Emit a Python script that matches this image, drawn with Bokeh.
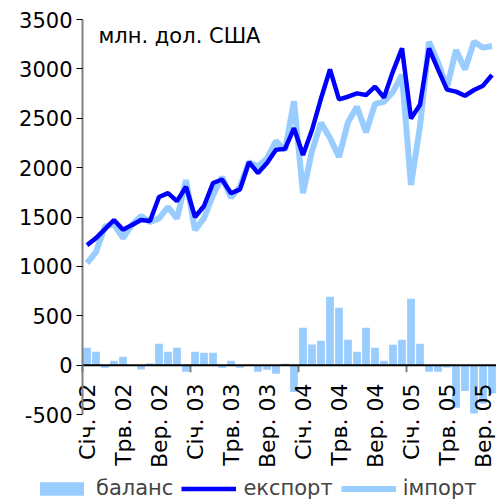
from math import pi
from bokeh.plotting import figure
from bokeh.models import (ColumnDataSource, FixedTicker, Label, Legend,
                          LegendItem, Range1d)
from bokeh.embed import file_html
from bokeh.resources import INLINE

# ---- data (million USD), monthly Jan 2002 .. Oct 2005 ----
export = [1215, 1286, 1378, 1470, 1370, 1420, 1469, 1459, 1702, 1742, 1661, 1806,
          1500, 1611, 1844, 1880, 1740, 1780, 2056, 1945, 2046, 2180, 2190, 2400,
          2127, 2380, 2700, 2995, 2691, 2718, 2752, 2735, 2820, 2710, 2975, 3208,
          2498, 2636, 3208, 2995, 2790, 2770, 2728, 2786, 2830, 2938]
imports = [1033, 1145, 1405, 1426, 1286, 1420, 1509, 1449, 1486, 1600, 1485, 1874,
           1368, 1489, 1722, 1905, 1696, 1807, 2056, 2013, 2093, 2268, 2176, 2672,
           1742, 2170, 2454, 2300, 2107, 2460, 2617, 2357, 2645, 2666, 2769, 2938,
           1823, 2420, 3275, 3065, 2814, 3190, 2995, 3275, 3215, 3231]
balance = [176, 135, -27, 44, 84, 0, -44, 17, 216, 135, 176, -68,
           135, 125, 125, -27, 44, -27, 0, -68, -47, -88, 14, -272,
           378, 209, 246, 692, 580, 256, 135, 378, 175, 44, 206, 256,
           672, 216, -68, -68, -24, -432, -263, -490, -388, -287]

tick_months = [0, 4, 8, 12, 16, 20, 24, 28, 32, 36, 40, 44]
tick_labels = ["Січ. 02", "Трв. 02", "Вер. 02", "Січ. 03", "Трв. 03", "Вер. 03",
               "Січ. 04", "Трв. 04", "Вер. 04", "Січ. 05", "Трв. 05", "Вер. 05"]
y_ticks = [-500, 0, 500, 1000, 1500, 2000, 2500, 3000, 3500]

series_names = ["баланс", "експорт", "імпорт"]
unit_text = "млн. дол. США"

FONT = "DejaVu Sans"
LIGHT = "#99CCFF"
DARK = "#0000FF"

# ---- layout (pixels) ----
W, H = 496, 501
PLOT_L, PLOT_T, PLOT_B = 82, 19, 414     # value area inside the canvas
n = len(export)
px_month = (W - PLOT_L) / n
y_lo, y_hi = y_ticks[0], y_ticks[-1]
px_unit = (PLOT_B - PLOT_T) / (y_hi - y_lo)
x_start = -0.5 - PLOT_L / px_month
y_top = y_hi + PLOT_T / px_unit
y_bot = y_lo - (H - PLOT_B) / px_unit

months = list(range(n))
src = ColumnDataSource(dict(m=months, exp=export, imp=imports, bal=balance))

p = figure(width=W, height=H, output_backend="svg", toolbar_location=None,
           x_range=Range1d(x_start, n - 0.5), y_range=Range1d(y_bot, y_top),
           min_border=0)
p.outline_line_color = None
p.grid.visible = False
p.background_fill_color = "white"
p.border_fill_color = "white"

bars = p.vbar(x="m", top="bal", width=0.86, source=src,
              fill_color=LIGHT, line_color=None)

# zero line with year-boundary ticks
years = [m - 0.5 for m in months if m % 12 == 0]
p.segment(x0=years, y0=[0] * len(years), x1=years,
          y1=[-7 / px_unit] * len(years), line_color="#808080", line_width=2)
p.segment(x0=[-0.5], y0=[0], x1=[n - 0.5], y1=[0], line_color="black",
          line_width=2)

imp_r = p.line("m", "imp", source=src, line_color=LIGHT, line_width=6)
exp_r = p.line("m", "exp", source=src, line_color=DARK, line_width=4.5)

# y axis drawn at the left edge of the value area
ya = p.yaxis[0]
ya.fixed_location = -0.5
ya.bounds = (y_lo, y_hi)
ya.ticker = FixedTicker(ticks=y_ticks)
ya.major_label_overrides = {v: str(v) for v in y_ticks}
ya.axis_line_color = "#808080"
ya.axis_line_width = 2
ya.major_tick_out = 6
ya.major_tick_in = 0
ya.major_tick_line_color = "black"
ya.minor_tick_line_color = None
ya.major_label_standoff = 4
ya.major_label_text_font = FONT
ya.major_label_text_font_size = "21px"
ya.major_label_text_color = "black"

# x axis labels overlapping the bottom of the value area
xa = p.xaxis[0]
xa.fixed_location = y_lo + (PLOT_B - 383) / px_unit
xa.ticker = FixedTicker(ticks=tick_months)
xa.major_label_overrides = dict(zip(tick_months, tick_labels))
xa.major_label_orientation = pi / 2
xa.axis_line_color = None
xa.major_tick_line_color = None
xa.minor_tick_line_color = None
xa.major_tick_out = 0
xa.major_tick_in = 0
xa.major_label_standoff = 0
xa.major_label_text_font = FONT
xa.major_label_text_font_size = "22px"
xa.major_label_text_color = "black"

p.add_layout(Label(x=-0.5 + 16 / px_month, y=y_hi - 16 / px_unit,
                   text=unit_text, text_font=FONT, text_font_size="21px",
                   text_color="black", text_baseline="alphabetic"))

legend = Legend(items=[LegendItem(label=series_names[0], renderers=[bars]),
                       LegendItem(label=series_names[1], renderers=[exp_r]),
                       LegendItem(label=series_names[2], renderers=[imp_r])],
                orientation="horizontal", location=(34, 1),
                glyph_width=55, glyph_height=17, label_standoff=7, spacing=8,
                padding=0, margin=0, border_line_color=None,
                background_fill_alpha=0,
                label_text_font=FONT, label_text_font_size="21px")
p.add_layout(legend, "center")

open("out.html", "w").write(file_html(p, INLINE))
